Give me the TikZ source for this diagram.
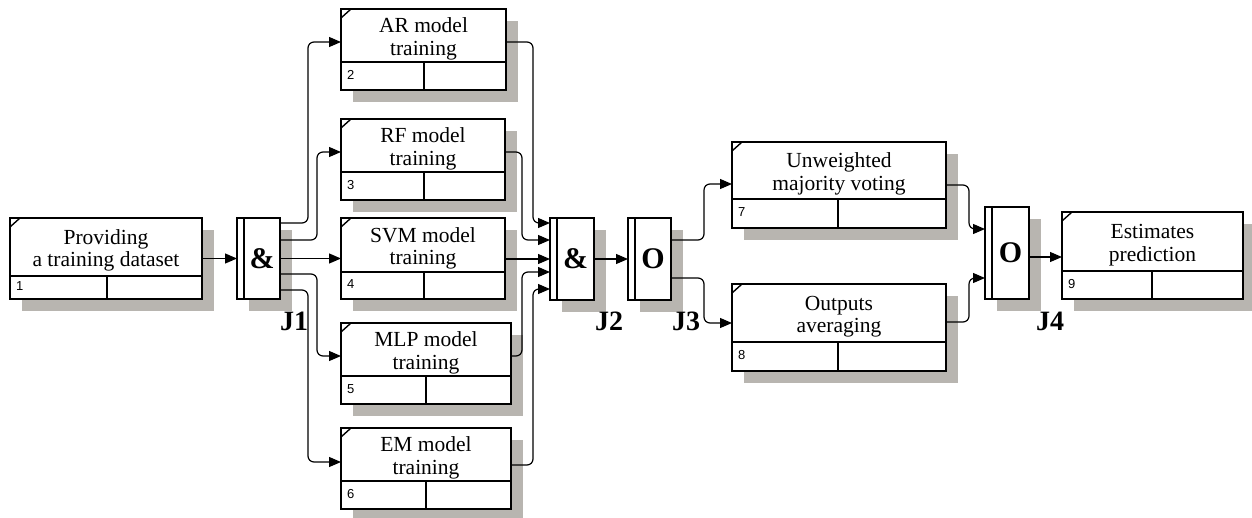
\documentclass[tikz,border=0pt]{standalone}
\usepackage{fontspec}
\setmainfont{Liberation Serif}
\newfontfamily\numfont{Liberation Sans}
\usetikzlibrary{calc,arrows.meta}
\definecolor{shadowc}{RGB}{184,181,176}
\tikzset{
  boxshape/.style={draw, line width=1.8pt, fill=white, rectangle, inner sep=0pt, outer sep=0pt},
  jshape/.style={draw, line width=1.8pt, fill=white, rectangle, inner sep=0pt, outer sep=0pt},
  boxline/.style={line width=1.8pt},
  tickline/.style={line width=1.4pt},
  ptext/.style={align=center, inner sep=0pt, font=\fontsize{21.5}{22.5}\selectfont},
  pnum/.style={anchor=west, inner sep=0pt, font=\numfont\fontsize{13}{14}\selectfont},
  jsym/.style={inner sep=0pt, font=\bfseries\fontsize{30}{32}\selectfont},
  jlab/.style={inner sep=0pt, font=\bfseries\fontsize{28}{30}\selectfont},
  conn/.style={line width=1.2pt, rounded corners=6pt, -{Triangle[length=12pt,width=10pt]}},
}
\newcommand\procbox[9]{%
  \fill[shadowc] (#2+12,#3+12) rectangle (#2+#4+12,#3+#5+12);
  \node[boxshape, minimum width=#4pt, minimum height=#5pt, anchor=north west] (#1) at (#2,#3) {};
  \draw[boxline] ($(#1.north west)+(0,#6)$) -- ($(#1.north east)+(0,#6)$);
  \draw[boxline] ($(#1.north west)+(#7,#6)$) -- ($(#1.south west)+(#7,0)$);
  \draw[tickline] ($(#1.north west)+(0,9)$) -- ($(#1.north west)+(10,0)$);
  \node[ptext] (#1t) at ($(#1.north)+(0,0.5*#6+3.5)$) {#9};
  \node[pnum] (#1n) at ($(#1.south west)+(6,-0.5*#5+0.5*#6-1)$) {#8};
}
\newcommand\junc[6]{%
  \fill[shadowc] (#2+12,#3+12) rectangle (#2+#4+12,#3+#5+12);
  \node[jshape, minimum width=#4pt, minimum height=#5pt, anchor=north west] (#1) at (#2,#3) {};
  \draw[boxline] ($(#1.north west)+(7,0)$) -- ($(#1.south west)+(7,0)$);
  \node[jsym] (#1s) at ($(#1.center)+(3.5,0)$) {#6};
}
\begin{document}
\begin{tikzpicture}[x=1pt,y=-1pt]
\useasboundingbox (0,0) rectangle (1252,517);
\procbox{p1}{10}{218}{192}{81}{58}{97}{1}{Providing\\a training dataset}
\junc{j1}{237}{218}{43}{81}{\&}
\procbox{p2}{341}{9}{165}{81}{53}{83}{2}{AR model\\training}
\procbox{p3}{341}{119}{164}{81}{53}{83}{3}{RF model\\training}
\procbox{p4}{341}{218}{164}{81}{54}{83}{4}{SVM model\\training}
\procbox{p5}{341}{323}{170}{81}{53}{85}{5}{MLP model\\training}
\procbox{p6}{341}{428}{170}{81}{53}{85}{6}{EM model\\training}
\junc{j2}{550}{218}{44}{82}{\&}
\junc{j3}{628}{218}{43}{82}{O}
\procbox{p7}{732}{142}{214}{86}{57}{106}{7}{Unweighted\\majority voting}
\procbox{p8}{732}{284}{214}{87}{58}{106}{8}{Outputs\\averaging}
\junc{j4}{985}{207}{44}{92}{O}
\procbox{p9}{1062}{212}{181}{87}{59}{90}{9}{Estimates\\prediction}

\node[jlab] (l1) at (294,321) {J1};
\node[jlab] (l2) at (609,321) {J2};
\node[jlab] (l3) at (686,321) {J3};
\node[jlab] (l4) at (1050,321) {J4};

% coordinates
\coordinate (j1o1) at ($(j1.north east)+(0,5)$);
\coordinate (j1o2) at ($(j1.north east)+(0,22)$);
\coordinate (j1o4) at ($(j1.north east)+(0,56)$);
\coordinate (j1o5) at ($(j1.north east)+(0,72)$);
\coordinate (p2i) at ($(p2.north west)+(0,33)$);
\coordinate (p3i) at ($(p3.north west)+(0,33)$);
\coordinate (p5i) at ($(p5.north west)+(0,33)$);
\coordinate (p6i) at ($(p6.north west)+(0,34)$);
\coordinate (p2o) at ($(p2.north east)+(0,33)$);
\coordinate (p3o) at ($(p3.north east)+(0,33)$);
\coordinate (p5o) at ($(p5.north east)+(0,33)$);
\coordinate (p6o) at ($(p6.north east)+(0,37)$);
\coordinate (j2i1) at ($(j2.north west)+(0,5)$);
\coordinate (j2i2) at ($(j2.north west)+(0,22)$);
\coordinate (j2i4) at ($(j2.north west)+(0,54)$);
\coordinate (j2i5) at ($(j2.north west)+(0,71)$);
\coordinate (j3o1) at ($(j3.north east)+(0,22)$);
\coordinate (j3o2) at ($(j3.north east)+(0,60)$);
\coordinate (p7i) at ($(p7.north west)+(0,42)$);
\coordinate (p8i) at ($(p8.north west)+(0,39)$);
\coordinate (p7o) at ($(p7.north east)+(0,43)$);
\coordinate (p8o) at ($(p8.north east)+(0,38)$);
\coordinate (j4i1) at ($(j4.north west)+(0,22)$);
\coordinate (j4i2) at ($(j4.north west)+(0,71)$);
\coordinate (j4o) at ($(j4.north east)+(0,50)$);

% connectors
\draw[conn] (p1.east |- j1.west) -- (j1.west);
\draw[conn] (j1o1) -- ++(28,0) |- (p2i);
\draw[conn] (j1o2) -- ++(37,0) |- (p3i);
\draw[conn] (j1.east) -- (p4.west |- j1.east);
\draw[conn] (j1o4) -- ++(37,0) |- (p5i);
\draw[conn] (j1o5) -- ++(28,0) |- (p6i);

\draw[conn] (p2o) -- ++(27,0) |- (j2i1);
\draw[conn] (p3o) -- ++(17,0) |- (j2i2);
\draw[conn] (p4.east |- j2.west) -- (j2.west);
\draw[conn] (p5o) -- ++(11,0) |- (j2i4);
\draw[conn] (p6o) -- ++(22,0) |- (j2i5);

\draw[conn] (j2.east) -- (j3.west);
\draw[conn] (j3o1) -- ++(33,0) |- (p7i);
\draw[conn] (j3o2) -- ++(33,0) |- (p8i);
\draw[conn] (p7o) -- ++(23,0) |- (j4i1);
\draw[conn] (p8o) -- ++(23,0) |- (j4i2);
\draw[conn] (j4o) -- (p9.west |- j4o);
\end{tikzpicture}
\end{document}
